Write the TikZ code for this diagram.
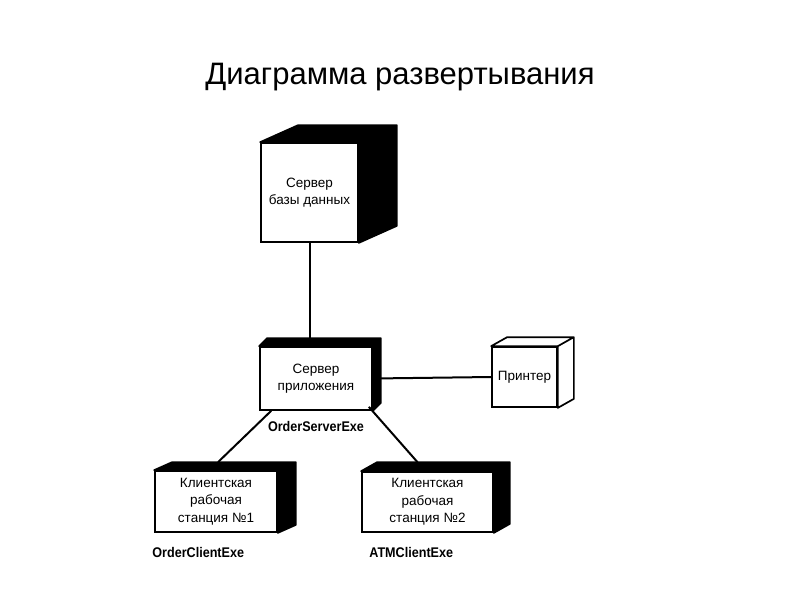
\documentclass[tikz,border=0pt]{standalone}
\usepackage{fontspec}
\setmainfont{Liberation Sans}
\newfontfamily\narrowsf{Liberation Sans}[FakeStretch=0.9]
\usepackage{tikz}
\usetikzlibrary{positioning}

\tikzset{
	box/.style={draw, line width=1.7pt, fill=white, inner sep=0pt, align=center,
		font=\fontsize{13.5}{17.5}\selectfont},
	exe/.style={inner sep=0pt, font=\narrowsf\bfseries\fontsize{14}{16}\selectfont},
	link/.style={line width=2pt},
}

% back faces of a node: node, dx, dy, fill
\newcommand{\nodeback}[4]{%
	\draw[line width=1.7pt, line join=round, fill=#4] (#1.north west) -- ([shift={(#2,#3)}]#1.north west)
		-- ([shift={(#2,#3)}]#1.north east) -- ([shift={(#2,#3)}]#1.south east) -- (#1.south east)
		-- (#1.north east) -- cycle (#1.north east) -- ([shift={(#2,#3)}]#1.north east);
}

\begin{document}
\begin{tikzpicture}[x=1pt, y=-1pt]
	\useasboundingbox (0,0) rectangle (800,600);

	\node (title) at (400,77) {\fontsize{31}{36}\selectfont Диаграмма развертывания};

	% nodes
	\node[box, minimum width=97pt, minimum height=99pt] (db) at (309.5,192.5) {Сервер\\базы данных};
	\nodeback{db}{38}{-17}{black}
	\node[box, minimum width=112pt, minimum height=63pt] (app) at (316,378.5) {Сервер\\приложения};
	\nodeback{app}{8}{-8}{black}
	\node[box, minimum width=65pt, minimum height=60pt] (pr) at (524.5,377) {Принтер};
	\nodeback{pr}{16}{-9}{white}
	\node[box, minimum width=122pt, minimum height=61pt] (c1) at (216,501.5) {Клиентская\\рабочая\\станция №1};
	\nodeback{c1}{18}{-8}{black}
	\node[box, minimum width=131pt, minimum height=60pt] (c2) at (427.5,502) {Клиентская\\рабочая\\станция №2};
	\nodeback{c2}{16}{-9}{black}

	% labels
	\node[exe, below=10pt of app] (appexe) {OrderServerExe};
	\node[exe, below right=14pt and -2pt of c1.south west] (c1exe) {OrderClientExe};
	\node[exe, below right=14pt and 8pt of c2.south west] (c2exe) {ATMClientExe};

	% links
	\draw[link] (db.south) -- (db.south |- app.north);
	\draw[link] (app.east) -- (pr.west);
	\draw[link] ([xshift=12pt]app.south west) -- ([xshift=2pt,yshift=8pt]c1.north);
	\draw[link] ([xshift=-4pt,yshift=4pt]app.south east) -- ([xshift=-10pt,yshift=9pt]c2.north);
\end{tikzpicture}
\end{document}
